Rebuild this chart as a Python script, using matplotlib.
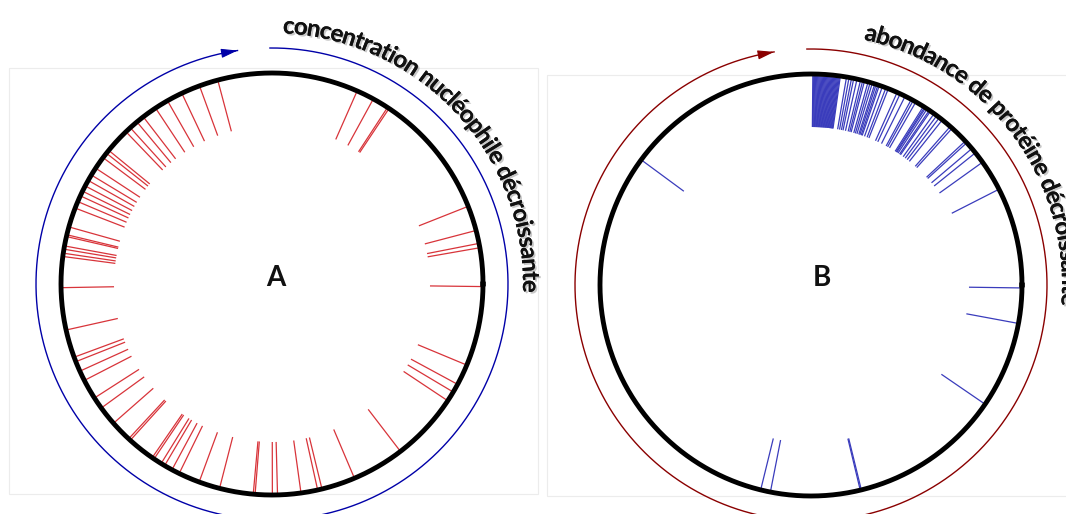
import numpy as np
import matplotlib
matplotlib.use("Agg")
import matplotlib.pyplot as plt
import matplotlib.patheffects as pe
from matplotlib.collections import LineCollection
from matplotlib.patches import Rectangle
from matplotlib.font_manager import FontProperties

# ---------------- data ----------------
# angular positions (degrees, counter-clockwise from 3 o'clock) of each mark
angles_A = [66.2, 61.3, 56.3, 56.8,
            21.6, 14.7, 11.1, 9.9, -0.7,
            -22.6, -28.4, -30.8, -33.6, -52.5, -67.0, -76.3, -77.5, -82.1, -88.5, -89.9,
            -94.6, -95.1, -104.4, -110.2, -116.1, -118.3, -120.6, -121.7, -124.0, -124.6,
            -132.2, -132.8, -138.7, -144.0, -147.3, -152.8, -155.6, -158.4, -159.7, -167.4, -179.0,
            164.3, 166.5, 167.0, 169.6, 170.5, 171.6, 172.5,
            140.7, 141.7, 143.2, 146.7, 148.9, 150.6, 152.3, 153.9, 155.3, 157.0, 158.9,
            104.9, 110.1, 115.3, 119.7, 123.5, 127.6, 129.8, 132.2, 133.8]

angles_B = [89.5, 89.25, 89.0, 88.75, 88.5, 88.25, 88.0, 87.75, 87.5, 87.25, 87.0,
            86.75, 86.5, 86.25, 86.0, 85.75, 85.5, 85.25, 85.0, 84.75, 84.5, 84.25,
            84.0, 83.75, 83.5, 83.25, 83.0, 82.75, 82.5, 82.25, 82.0,
            80.3, 79.6, 78.9, 78.3, 77.4, 76.4, 75.8, 75.3, 74.3, 73.7, 73.1, 72.4,
            72.0, 71.5, 71.1, 70.2, 69.2, 68.5, 65.9, 65.0, 63.5, 61.6, 61.0, 60.2,
            57.8, 57.4, 57.1, 56.6, 55.9, 55.5, 54.3, 53.4, 52.5, 51.5, 48.7, 48.0,
            43.0, 42.4, 40.3, 38.8, 35.6, 27.0,
            143.6, -0.8, -10.5, -34.4, -76.2, -76.5, -101.1, -103.8]

panel_labels = ["A", "B"]
arc_titles = ["concentration nucléophile décroissante",
              "abondance de protéine décroissante"]

# ---------------- figure ----------------
W, H, DPI = 1066, 514, 100
fig = plt.figure(figsize=(W / DPI, H / DPI), dpi=DPI)
ax = fig.add_axes([0, 0, 1, 1])
ax.set_xlim(0, W)
ax.set_ylim(H, 0)
ax.axis("off")

R_RING, R_IN, R_OUT, R_ARC, R_TXT = 211, 158, 209, 236, 251
FONT = "Lato"
ENLARGE = 1.07   # slightly bigger glyphs, slightly tighter tracking

panels = [
    dict(cx=272, cy=284, angles=angles_A, tick="#d8343a", arc="#0000a8",
         frame=(9, 68, 529, 426), label_xy=(276, 278), text_start=87.5, arc_start=90.5, arc_end=-261.6),
    dict(cx=811, cy=285, angles=angles_B, tick="#3a3cbc", arc="#8a0000",
         frame=(547, 75, 530, 421), label_xy=(822, 278), text_start=77.8, arc_start=91.0, arc_end=-261.0),
]

renderer = fig.canvas.get_renderer()


def advances(s, fp):
    w0 = renderer.get_text_width_height_descent("aa", fp, ismath=False)[0]
    return np.array([renderer.get_text_width_height_descent("a" + c + "a", fp, ismath=False)[0] - w0
                     for c in s])


# font size so that title A spans ~89.5 degrees
fp0 = FontProperties(family=FONT, weight="bold", size=13)
tot0 = advances(arc_titles[0], fp0).sum()
fs_fit = 13 * (np.deg2rad(89.5) * R_TXT) / tot0
fp = FontProperties(family=FONT, weight="bold", size=fs_fit * ENLARGE)
fp_meas = FontProperties(family=FONT, weight="bold", size=fs_fit)

for p, lab, title in zip(panels, panel_labels, arc_titles):
    cx, cy = p["cx"], p["cy"]
    fx, fy, fw, fh = p["frame"]
    ax.add_patch(Rectangle((fx, fy), fw, fh, fill=False, ec="#ececec", lw=0.8, zorder=0))

    # ticks
    a = np.deg2rad(np.asarray(p["angles"]))
    segs = np.stack([np.column_stack([cx + R_IN * np.cos(a), cy - R_IN * np.sin(a)]),
                     np.column_stack([cx + R_OUT * np.cos(a), cy - R_OUT * np.sin(a)])], axis=1)
    ax.add_collection(LineCollection(segs, colors=p["tick"], linewidths=0.9, zorder=2))

    # ring
    t = np.linspace(0, 2 * np.pi, 721)
    ax.plot(cx + R_RING * np.cos(t), cy - R_RING * np.sin(t), color="black", lw=3.5, zorder=3)

    # outer arc with arrow
    t = np.deg2rad(np.linspace(p["arc_start"], p["arc_end"], 600))
    ax.plot(cx + R_ARC * np.cos(t), cy - R_ARC * np.sin(t), color=p["arc"], lw=1.0, zorder=2)
    te = np.deg2rad(p["arc_end"])
    tb = te + np.deg2rad(3)
    ax.annotate("", xy=(cx + R_ARC * np.cos(te), cy - R_ARC * np.sin(te)),
                xytext=(cx + R_ARC * np.cos(tb), cy - R_ARC * np.sin(tb)),
                arrowprops=dict(arrowstyle="-|>,head_length=0.5,head_width=0.14", color=p["arc"],
                                lw=0.8, shrinkA=0, shrinkB=0, mutation_scale=20), zorder=3)

    # centre label
    ax.text(p["label_xy"][0], p["label_xy"][1], lab, fontsize=20, fontweight="bold",
            family=FONT, ha="center", va="center", color="#111111")

    # curved title
    adv = advances(title, fp_meas)
    s_mid = np.cumsum(adv) - adv / 2
    th0 = np.deg2rad(p["text_start"])
    for c, s in zip(title, s_mid):
        th = th0 - s / R_TXT
        if c == " ":
            continue
        ax.text(cx + R_TXT * np.cos(th), cy - R_TXT * np.sin(th), c, fontproperties=fp,
                rotation=np.rad2deg(th) - 90, rotation_mode="anchor", ha="center", va="baseline",
                color="#111111", zorder=4,
                path_effects=[pe.withSimplePatchShadow(offset=(1.3, -1.3), shadow_rgbFace="#777777", alpha=0.4),
                              pe.Normal()])

fig.savefig("out.png", dpi=DPI)
